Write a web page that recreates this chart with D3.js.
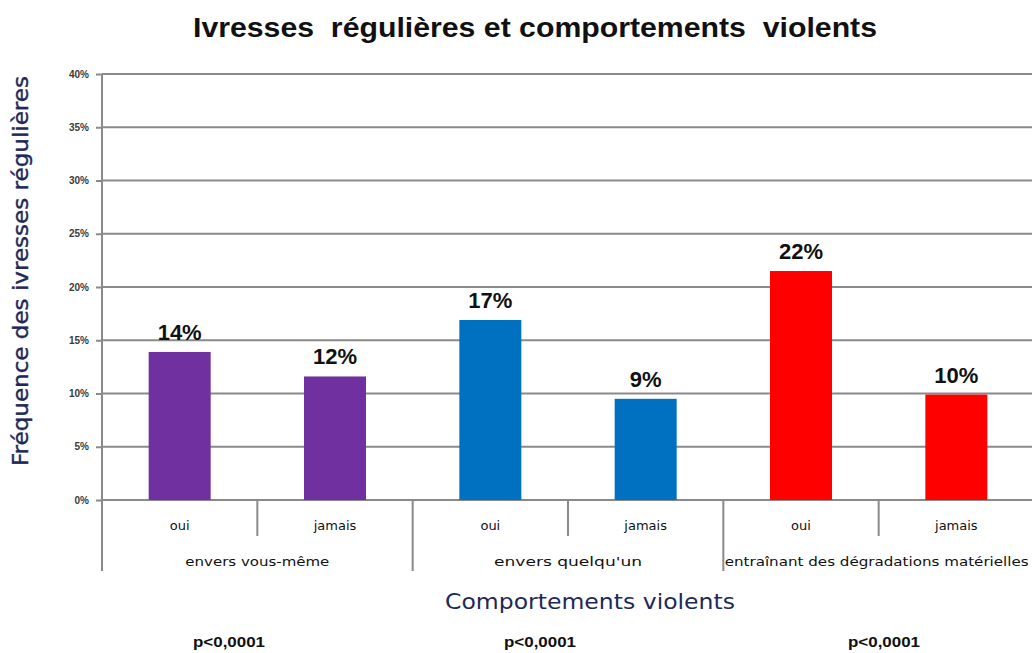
<!DOCTYPE html>
<html><head><meta charset="utf-8">
<script src="https://cdn.jsdelivr.net/npm/d3@7"></script>
<style>body{margin:0;background:#fff}svg{display:block}</style>
</head><body>
<script>
const groups = ["envers vous-même", "envers quelqu'un", "entraînant des dégradations matérielles"];
const subcats = ["oui", "jamais"];
const values = [13.9, 11.6, 16.9, 9.5, 21.5, 9.9];
const labels = ["14%", "12%", "17%", "9%", "22%", "10%"];
const groupColors = ["#7030a0", "#0070c0", "#ff0000"];
const yTicks = [0, 5, 10, 15, 20, 25, 30, 35, 40];
const pvalues = ["p<0,0001", "p<0,0001", "p<0,0001"];

(function () {
const W = 1032, H = 653;
const svg = d3.select("body").append("svg").attr("width", W).attr("height", H);
const pLeft = 102, pRight = 1034, pTop = 74, pBottom = 500;

const keys = [];
groups.forEach((g, gi) => subcats.forEach((s, si) => keys.push({g, gi, s, si, i: gi * 2 + si})));

const x = d3.scaleBand().domain(keys.map(k => k.i)).range([pLeft, pRight]).paddingInner(0).paddingOuter(0);
const y = d3.scaleLinear().domain([0, 40]).range([pBottom, pTop]);

svg.append("g").selectAll("line").data(yTicks.filter(t => t > 0)).join("line")
  .attr("x1", pLeft).attr("x2", W).attr("y1", d => y(d)).attr("y2", d => y(d))
  .attr("stroke", "#8a8a8a").attr("stroke-width", 2);

const yAxis = d3.axisLeft(y).tickValues(yTicks).tickFormat(d => d + "%").tickSize(6).tickPadding(7);
const ya = svg.append("g").attr("transform", `translate(${pLeft},0)`).call(yAxis);
ya.select(".domain").attr("stroke", "#8a8a8a").attr("stroke-width", 2).attr("d", `M0,${pTop}V${pBottom + 4}`);
ya.selectAll(".tick line").attr("stroke", "#8a8a8a").attr("stroke-width", 2);
ya.selectAll(".tick text").attr("font-family", "Liberation Sans, Arial, sans-serif")
  .attr("font-size", 10).attr("font-weight", "bold").attr("fill", "#3a3a3a");

svg.append("line").attr("x1", pLeft).attr("x2", W).attr("y1", pBottom).attr("y2", pBottom)
  .attr("stroke", "#8a8a8a").attr("stroke-width", 2);

const bw = 62;
svg.append("g").selectAll("rect").data(keys).join("rect")
  .attr("x", k => x(k.i) + x.bandwidth() / 2 - bw / 2)
  .attr("width", bw)
  .attr("y", k => y(values[k.i]))
  .attr("height", k => y(0) - y(values[k.i]))
  .attr("fill", k => groupColors[k.gi]);

svg.append("g").selectAll("text").data(keys).join("text")
  .attr("x", k => x(k.i) + x.bandwidth() / 2)
  .attr("y", k => y(values[k.i]) - 12)
  .attr("text-anchor", "middle")
  .attr("font-family", "Liberation Sans, Arial, sans-serif")
  .attr("font-size", 22).attr("font-weight", "bold").attr("fill", "#111")
  .text(k => labels[k.i]);

const sepColor = "#8a8a8a";
groups.forEach((g, gi) => {
  const xs = x(gi * 2 + 1);
  svg.append("line").attr("x1", xs).attr("x2", xs).attr("y1", pBottom).attr("y2", 536)
    .attr("stroke", sepColor).attr("stroke-width", 2);
});
groups.forEach((g, gi) => {
  const xs = x(gi * 2);
  svg.append("line").attr("x1", xs).attr("x2", xs).attr("y1", pBottom).attr("y2", 571)
    .attr("stroke", sepColor).attr("stroke-width", 2);
});

const catFont = "DejaVu Sans, sans-serif";
svg.append("g").selectAll("text").data(keys).join("text")
  .attr("x", k => x(k.i) + x.bandwidth() / 2)
  .attr("y", 530)
  .attr("text-anchor", "middle")
  .attr("font-family", catFont).attr("font-size", 13).attr("fill", "#111")
  .text(k => k.s);

const gW = [144, 148, 304];
svg.append("g").selectAll("text").data(groups).join("text")
  .attr("x", (g, gi) => gi === 2 ? x(4) + x.bandwidth() - 2 : x(gi * 2) + x.bandwidth())
  .attr("y", 566)
  .attr("text-anchor", "middle")
  .attr("font-family", catFont).attr("font-size", 13).attr("fill", "#111")
  .attr("textLength", (g, gi) => gW[gi]).attr("lengthAdjust", "spacingAndGlyphs")
  .text(g => g);

svg.append("text").attr("x", 590).attr("y", 609).attr("text-anchor", "middle")
  .attr("font-family", "DejaVu Sans, sans-serif").attr("font-size", 22)
  .attr("fill", "#1f2858").attr("textLength", 290).attr("lengthAdjust", "spacingAndGlyphs")
  .text("Comportements violents");

svg.append("text").attr("transform", "translate(28,271) rotate(-90)").attr("text-anchor", "middle")
  .attr("font-family", "DejaVu Sans, sans-serif").attr("font-size", 22)
  .attr("fill", "#1f2858").attr("stroke", "#1f2858").attr("stroke-width", 0.4)
  .attr("textLength", 390).attr("lengthAdjust", "spacingAndGlyphs")
  .text("Fréquence des ivresses régulières");

svg.append("text").attr("x", 535).attr("y", 37).attr("text-anchor", "middle")
  .attr("font-family", "Liberation Sans, Arial, sans-serif").attr("font-size", 28).attr("font-weight", "bold")
  .attr("fill", "#111").attr("textLength", 684).attr("lengthAdjust", "spacingAndGlyphs")
  .style("white-space", "pre")
  .text("Ivresses  régulières et comportements  violents");

const px = [229, 540, 884];
svg.append("g").selectAll("text").data(pvalues).join("text")
  .attr("x", (d, i) => px[i]).attr("y", 647).attr("text-anchor", "middle")
  .attr("font-family", "Liberation Sans, sans-serif").attr("font-size", 15).attr("font-weight", "bold")
  .attr("fill", "#111").attr("textLength", 72).attr("lengthAdjust", "spacingAndGlyphs")
  .text(d => d);
})();
</script>
</body></html>
